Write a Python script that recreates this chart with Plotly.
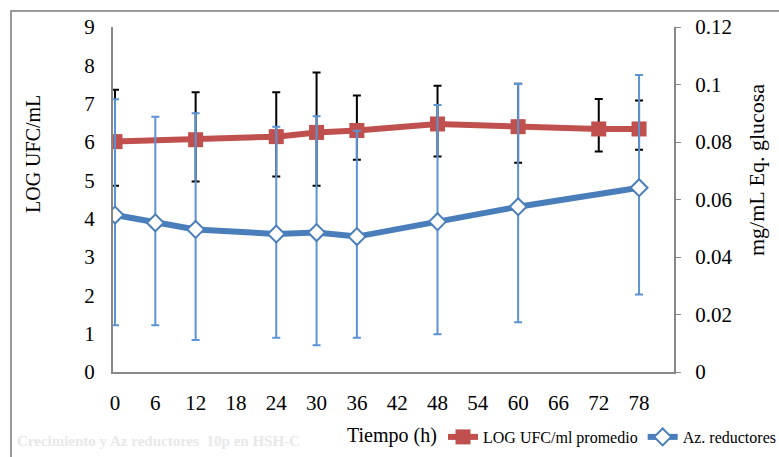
import plotly.graph_objects as go

# Data
t_ufc = [0, 12, 24, 30, 36, 48, 60, 72, 78]
log_ufc = [6.01, 6.06, 6.14, 6.25, 6.30, 6.47, 6.40, 6.34, 6.34]
ufc_upper = [7.36, 7.30, 7.30, 7.81, 7.21, 7.47, 7.52, 7.12, 7.08]
ufc_lower = [4.86, 4.97, 5.10, 4.86, 5.54, 5.62, 5.46, 5.75, 5.80]

t_az = [0, 6, 12, 24, 30, 36, 48, 60, 78]
az_red = [0.0546, 0.0519, 0.0496, 0.0480, 0.0485, 0.0471, 0.0523, 0.0575, 0.0641]
az_upper = [0.0949, 0.0888, 0.0900, 0.0853, 0.0890, 0.0839, 0.0929, 0.1002, 0.1033]
az_lower = [0.0163, 0.0163, 0.0111, 0.0119, 0.0093, 0.0119, 0.0131, 0.0173, 0.0270]

x_ticks = list(range(0, 79, 6))
y1_ticks = list(range(0, 10))
y2_ticks = [0, 0.02, 0.04, 0.06, 0.08, 0.1, 0.12]
y2_labels = ["0", "0.02", "0.04", "0.06", "0.08", "0.1", "0.12"]

RED = "#C0504D"
BLUE = "#4A7EBB"
EB_BLUE = "#5B93D3"
FONT = "Liberation Serif"

L, R, T, B = 113, 674, 27, 372
PW, PH = R - L, B - T


def px(x):
    return (x - L) / PW


def py(y):
    return (B - y) / PH


fig = go.Figure()

fig.add_trace(go.Scatter(
    x=t_ufc, y=log_ufc, name="LOG UFC/ml promedio", mode="lines+markers",
    line=dict(color=RED, width=6),
    marker=dict(symbol="square", size=15, color=RED),
    error_y=dict(type="data", symmetric=False,
                 array=[u - v for u, v in zip(ufc_upper, log_ufc)],
                 arrayminus=[v - l for l, v in zip(ufc_lower, log_ufc)],
                 color="black", thickness=2, width=4),
    yaxis="y",
))

fig.add_trace(go.Scatter(
    x=t_az, y=az_red, name="Az. reductores", mode="lines+markers",
    line=dict(color=BLUE, width=6),
    marker=dict(symbol="diamond", size=13, color="white",
                line=dict(color=BLUE, width=2)),
    error_y=dict(type="data", symmetric=False,
                 array=[u - v for u, v in zip(az_upper, az_red)],
                 arrayminus=[v - l for l, v in zip(az_lower, az_red)],
                 color=EB_BLUE, thickness=2, width=4),
    yaxis="y2",
))

fig.update_layout(
    width=779, height=457,
    margin=dict(l=L, r=779 - R, t=T, b=457 - B, autoexpand=False),
    paper_bgcolor="white", plot_bgcolor="white",
    font=dict(family=FONT, color="black", size=20),
    xaxis=dict(range=[-0.3, 83.2], tickvals=x_ticks, showgrid=False,
               zeroline=False, showline=True, linecolor="#888888", linewidth=2,
               ticks="", ticklabelstandoff=11, tickfont=dict(size=21),
               automargin=False),
    yaxis=dict(range=[0, 9], tickvals=y1_ticks, showgrid=False, zeroline=False,
               showline=True, linecolor="#888888", linewidth=2, ticks="",
               ticklabelstandoff=12, tickfont=dict(size=21), automargin=False),
    yaxis2=dict(range=[0, 0.12], tickvals=y2_ticks, ticktext=y2_labels,
                overlaying="y", side="right", showgrid=False, zeroline=False,
                showline=True, linecolor="#888888", linewidth=2,
                ticks="outside", ticklen=5, tickcolor="#888888",
                ticklabelstandoff=10, tickfont=dict(size=21), automargin=False),
    legend=dict(orientation="h", x=px(443), y=py(437), xanchor="left", yanchor="middle",
                font=dict(size=16), itemwidth=30, tracegroupgap=0,
                bgcolor="rgba(0,0,0,0)"),
    showlegend=True,
)

fig.add_annotation(text="LOG UFC/mL", xref="paper", yref="paper",
                   x=px(33), y=py(154), textangle=-90, showarrow=False,
                   font=dict(size=20), xanchor="center", yanchor="middle")
fig.add_annotation(text="mg/mL Eq. glucosa", xref="paper", yref="paper",
                   x=px(756), y=py(170), textangle=-90, showarrow=False,
                   font=dict(size=22), xanchor="center", yanchor="middle")
fig.add_annotation(text="Tiempo (h)", xref="paper", yref="paper",
                   x=px(392), y=py(435), showarrow=False,
                   font=dict(size=20), xanchor="center", yanchor="middle")
fig.add_annotation(text="<b>Crecimiento y Az reductores  10p en HSH-C</b>",
                   xref="paper", yref="paper", x=px(15),
                   y=py(441), showarrow=False, xanchor="left",
                   yanchor="middle", font=dict(size=15, color="#E8E8E8"))

fig.add_shape(type="rect", xref="paper", yref="paper",
              x0=px(11), x1=px(800), y0=py(480), y1=py(11),
              line=dict(color="#9a9a9a", width=2), layer="below")

fig.write_html("out.html")
